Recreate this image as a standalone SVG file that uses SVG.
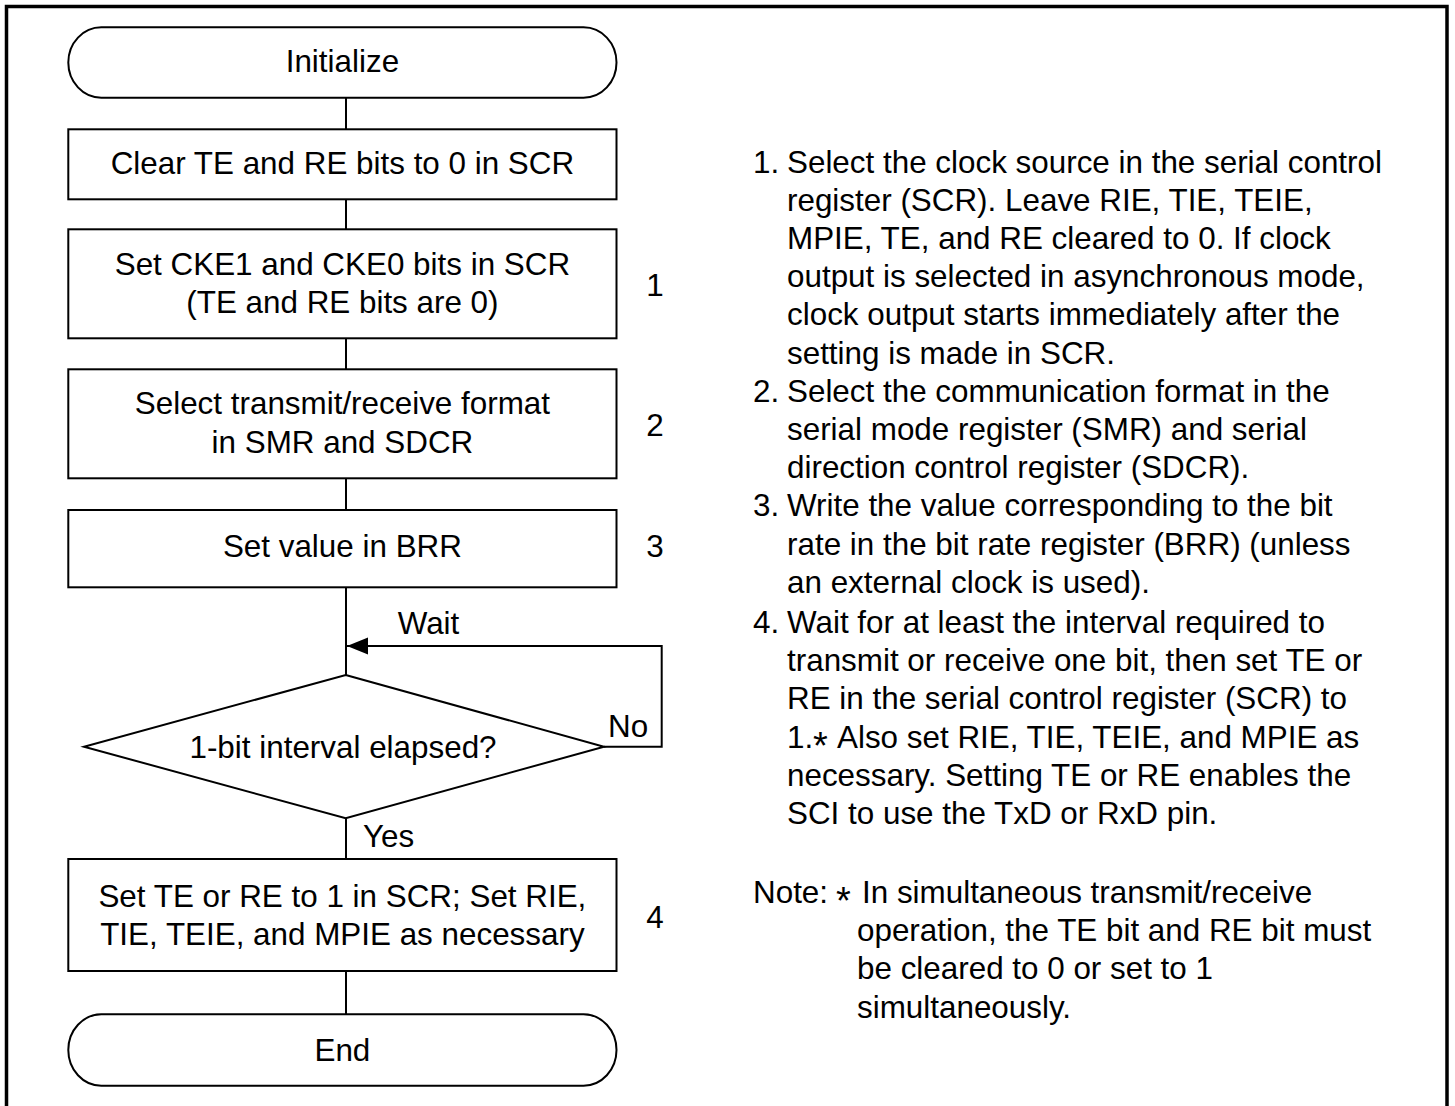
<svg xmlns="http://www.w3.org/2000/svg" width="1455" height="1106" viewBox="0 0 1455 1106">
<style>
.s{fill:#fff;stroke:#000;stroke-width:2}
.l{fill:none;stroke:#000;stroke-width:2}
text{font-family:"Liberation Sans",Arial,sans-serif;font-size:31.4px;fill:#000}
.c{text-anchor:middle}
.ast{font-size:38px}
</style>
<defs>
<marker id="ah" markerUnits="userSpaceOnUse" markerWidth="22" markerHeight="18" refX="21" refY="8.5" orient="auto">
<path d="M0,0 L21,8.5 L0,17 Z" fill="#000"/>
</marker>
</defs>
<rect width="1455" height="1106" fill="#fff"/>
<path d="M6.5,1110 V6.5 H1447 V1110" fill="none" stroke="#000" stroke-width="3.5"/>
<g id="connectors">
<line class="l" x1="346" y1="97.7" x2="346" y2="129.3"/>
<line class="l" x1="346" y1="199.3" x2="346" y2="229.3"/>
<line class="l" x1="346" y1="338.3" x2="346" y2="369.3"/>
<line class="l" x1="346" y1="478.3" x2="346" y2="510"/>
<line class="l" x1="346" y1="587.3" x2="346" y2="675"/>
<line class="l" x1="346" y1="818.3" x2="346" y2="859"/>
<line class="l" x1="346" y1="971" x2="346" y2="1014.3"/>
<path class="l" d="M604,746.7 H661.7 V646 H347" marker-end="url(#ah)"/>
<text x="397.7" y="634.3">Wait</text>
<text x="608" y="736.7">No</text>
<text x="363" y="846.7">Yes</text>
</g>
<g id="n-init">
<rect class="s" x="68.3" y="27.3" width="548.2" height="70.4" rx="33" ry="35.2"/>
<text class="c" x="342.4" y="71.7">Initialize</text>
</g>
<g id="n-clear">
<rect class="s" x="68.3" y="129.3" width="548.2" height="70"/>
<text class="c" x="342.4" y="174.3">Clear TE and RE bits to 0 in SCR</text>
</g>
<g id="n-cke">
<rect class="s" x="68.3" y="229.3" width="548.2" height="109"/>
<text class="c" x="342.4" y="275">Set CKE1 and CKE0 bits in SCR</text>
<text class="c" x="342.4" y="313">(TE and RE bits are 0)</text>
<text class="c" x="655" y="296">1</text>
</g>
<g id="n-format">
<rect class="s" x="68.3" y="369.3" width="548.2" height="109"/>
<text class="c" x="342.4" y="414">Select transmit/receive format</text>
<text class="c" x="342.4" y="452.5">in SMR and SDCR</text>
<text class="c" x="655" y="436">2</text>
</g>
<g id="n-brr">
<rect class="s" x="68.3" y="510" width="548.2" height="77.3"/>
<text class="c" x="342.4" y="557">Set value in BRR</text>
<text class="c" x="655" y="557">3</text>
</g>
<g id="n-decision">
<polygon class="s" points="345.7,675 604,746.7 345.7,818.3 84,746.7"/>
<text class="c" x="343" y="757.5">1-bit interval elapsed?</text>
</g>
<g id="n-set">
<rect class="s" x="68.3" y="859" width="548.2" height="112"/>
<text class="c" x="342.4" y="907">Set TE or RE to 1 in SCR; Set RIE,</text>
<text class="c" x="342.4" y="945">TIE, TEIE, and MPIE as necessary</text>
<text class="c" x="655" y="928">4</text>
</g>
<g id="n-end">
<rect class="s" x="68.3" y="1014.3" width="548.2" height="71.4" rx="33" ry="35.7"/>
<text class="c" x="342.4" y="1060.7">End</text>
</g>
<g id="notes">
<text x="753" y="172.5">1.</text>
<text x="787" y="172.5">Select the clock source in the serial control</text>
<text x="787" y="210.7">register (SCR). Leave RIE, TIE, TEIE,</text>
<text x="787" y="248.9">MPIE, TE, and RE cleared to 0. If clock</text>
<text x="787" y="287.1">output is selected in asynchronous mode,</text>
<text x="787" y="325.3">clock output starts immediately after the</text>
<text x="787" y="363.5">setting is made in SCR.</text>
<text x="753" y="401.7">2.</text>
<text x="787" y="401.7">Select the communication format in the</text>
<text x="787" y="439.9">serial mode register (SMR) and serial</text>
<text x="787" y="478.1">direction control register (SDCR).</text>
<text x="753" y="516.3">3.</text>
<text x="787" y="516.3">Write the value corresponding to the bit</text>
<text x="787" y="554.5">rate in the bit rate register (BRR) (unless</text>
<text x="787" y="592.7">an external clock is used).</text>
<text x="753" y="633">4.</text>
<text x="787" y="633">Wait for at least the interval required to</text>
<text x="787" y="671.2">transmit or receive one bit, then set TE or</text>
<text x="787" y="709.4">RE in the serial control register (SCR) to</text>
<text x="787" y="747.6">1.<tspan class="ast" x="813" dy="11">*</tspan><tspan x="837" dy="-11">Also set RIE, TIE, TEIE, and MPIE as</tspan></text>
<text x="787" y="785.8">necessary. Setting TE or RE enables the</text>
<text x="787" y="824">SCI to use the TxD or RxD pin.</text>
<text x="753" y="903">Note:<tspan class="ast" x="836" dy="11">*</tspan></text>
<text x="862" y="903">In simultaneous transmit/receive</text>
<text x="857" y="941.2">operation, the TE bit and RE bit must</text>
<text x="857" y="979.4">be cleared to 0 or set to 1</text>
<text x="857" y="1017.6">simultaneously.</text>
</g>
</svg>
